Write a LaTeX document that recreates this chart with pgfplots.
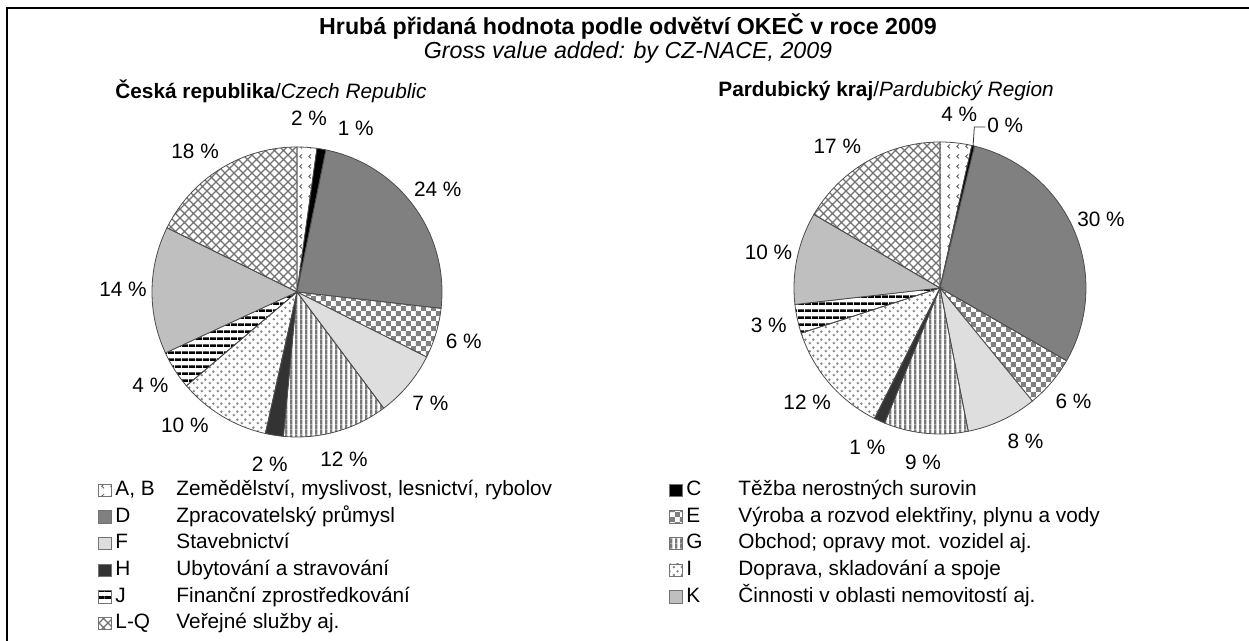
\documentclass[border=0pt]{standalone}
\usepackage{fontspec}
\setmainfont{Liberation Sans}
\usepackage{pgfplots}
\pgfplotsset{compat=1.18}
\usepackage{pgfplotstable}
\usetikzlibrary{patterns}

% ---------- patterns (1 px = 0.5 pt) ----------
\pgfdeclarepatternformonly{lqcross}{\pgfqpoint{-0.5pt}{-0.5pt}}{\pgfqpoint{5pt}{5pt}}{\pgfqpoint{4.5pt}{4.5pt}}{%
  \pgfsetlinewidth{0.55pt}%
  \pgfpathmoveto{\pgfqpoint{0pt}{0pt}}\pgfpathlineto{\pgfqpoint{4.5pt}{4.5pt}}%
  \pgfpathmoveto{\pgfqpoint{0pt}{4.5pt}}\pgfpathlineto{\pgfqpoint{4.5pt}{0pt}}%
  \pgfusepath{stroke}}
\pgfdeclarepatternformonly{checker}{\pgfqpoint{0pt}{0pt}}{\pgfqpoint{5.2pt}{5.2pt}}{\pgfqpoint{5.2pt}{5.2pt}}{%
  \pgfpathrectangle{\pgfpointorigin}{\pgfqpoint{2.6pt}{2.6pt}}%
  \pgfpathrectangle{\pgfqpoint{2.6pt}{2.6pt}}{\pgfqpoint{2.6pt}{2.6pt}}%
  \pgfusepath{fill}}
\pgfdeclarepatternformonly{vlines}{\pgfqpoint{0pt}{0pt}}{\pgfqpoint{2.6pt}{2.6pt}}{\pgfqpoint{2.6pt}{2.6pt}}{%
  \pgfpathrectangle{\pgfpointorigin}{\pgfqpoint{1.3pt}{2.6pt}}%
  \pgfusepath{fill}}
\pgfdeclarepatternformonly{hstripes}{\pgfqpoint{0pt}{0pt}}{\pgfqpoint{3.5pt}{3.5pt}}{\pgfqpoint{3.5pt}{3.5pt}}{%
  \pgfpathrectangle{\pgfpointorigin}{\pgfqpoint{3.5pt}{1.5pt}}%
  \pgfusepath{fill}}
\pgfdeclarepatternformonly{gdots}{\pgfqpoint{0pt}{0pt}}{\pgfqpoint{4pt}{4pt}}{\pgfqpoint{4pt}{4pt}}{%
  \pgfpathcircle{\pgfqpoint{1pt}{1pt}}{0.72pt}%
  \pgfpathcircle{\pgfqpoint{3pt}{3pt}}{0.72pt}%
  \pgfusepath{fill}}
\pgfdeclarepatternformonly{abmarks}{\pgfqpoint{0pt}{0pt}}{\pgfqpoint{4.5pt}{5pt}}{\pgfqpoint{4.5pt}{5pt}}{%
  \pgfsetlinewidth{0.45pt}%
  \pgfpathmoveto{\pgfqpoint{2.7pt}{3.6pt}}\pgfpathlineto{\pgfqpoint{1.5pt}{2.5pt}}\pgfpathlineto{\pgfqpoint{2.7pt}{1.4pt}}%
  \pgfusepath{stroke}}

\pgfplotsset{
  pie0/.style={pattern=abmarks, pattern color=black!65},
  pie1/.style={fill=black},
  pie2/.style={fill=black!50},
  pie3/.style={pattern=checker, pattern color=black!50},
  pie4/.style={fill=black!13},
  pie5/.style={pattern=vlines, pattern color=black!52},
  pie6/.style={fill=black!80},
  pie7/.style={pattern=gdots, pattern color=black!48},
  pie8/.style={pattern=hstripes, pattern color=black},
  pie9/.style={fill=black!25},
  pie10/.style={pattern=lqcross, pattern color=black!55},
}

\newcommand\labfont{\fontsize{10.4pt}{12pt}\selectfont}
\newcommand\titfont{\fontsize{11.6pt}{13pt}\selectfont}

% shares in per cent, label text, label angle shift (deg)
\pgfplotstableread{
val  lab shift
2.2  2   0
1.0  1   -10
23.6 24  0
5.6  6   0
7.4  7   0
11.7 12  0
2.0  2   0
10.3 10  -9
4.3  4   0
14.2 14  0
17.7 18  4
}\czdata
\pgfplotstableread{
val  lab shift
3.5  4   0
0.3  0   -8.7
29.5 30  0
5.8  6   0
7.8  8   4
9.3  9   0
1.2  1   0
12.6 12  0
3.2  3   0
10.2 10  0
16.6 17  6
}\pardata

\newcommand\pieslice[3]{%
  \addplot[pie#3, draw=black!70, line width=0.4pt, domain=#2:#1, samples=41, variable=\t]
    ({cos(\t)},{sin(\t)}) -- (axis cs:0,0) -- cycle;}

\newcommand\drawpie[1]{%
  \pgfmathsetmacro\cum{0}%
  \pgfplotsforeachungrouped \ii in {0,...,10}{%
    \pgfplotstablegetelem{\ii}{val}\of#1\let\vv\pgfplotsretval
    \pgfplotstablegetelem{\ii}{lab}\of#1\let\lb\pgfplotsretval
    \pgfplotstablegetelem{\ii}{shift}\of#1\let\shf\pgfplotsretval
    \pgfmathsetmacro\sA{90-3.6*\cum}%
    \pgfmathsetmacro\cum{\cum+\vv}%
    \pgfmathsetmacro\sB{90-3.6*\cum}%
    \pgfmathsetmacro\mA{(\sA+\sB)/2+\shf}%
    \edef\temp{\noexpand\pieslice{\sA}{\sB}{\ii}}\temp
    \edef\temp{\noexpand\node[font=\noexpand\labfont, inner sep=0pt] at (axis cs:{1.2*cos(\mA)},{1.2*sin(\mA)}) {\lb\space\noexpand\%};}\temp
  }}

\begin{document}
\begin{tikzpicture}[x=0.5pt,y=0.5pt]
\useasboundingbox (0,0) rectangle (1249,641);
\draw[line width=1pt] (1249,633) -- (7,633) -- (7,0);

\node[font=\titfont\bfseries] at (628,614) {Hrubá přidaná hodnota podle odvětví OKEČ v roce 2009};
\node[font=\titfont\itshape] at (628,588) {Gross value added: by CZ-NACE, 2009};
\node[font=\labfont, anchor=west, inner sep=0pt] at (115,550) {\textbf{Česká republika}/\textit{Czech Republic}};
\node[font=\labfont, anchor=west, inner sep=0pt] at (718,550) {\textbf{Pardubický kraj}/\textit{Pardubický Region}};

\begin{axis}[
  at={(148.5pt,174.5pt)}, anchor=center,
  x=72.5pt, y=72.5pt,
  xmin=-1.4, xmax=1.4, ymin=-1.4, ymax=1.4,
  hide axis, clip=false,
  legend columns=2,
  legend cell align=left,
  legend style={draw=none, fill=none, at={(0.01,0.037)}, anchor=north west,
    inner sep=0pt, font=\labfont, row sep=3.65pt,
    nodes={inner ysep=0pt, text height=7.5pt, text depth=2.2pt}},
  legend image code/.code={\draw[#1, draw=black!55, line width=0.3pt] (0pt,-3.1pt) rectangle (6.2pt,3.1pt);},
]
\drawpie{\czdata}
\legend{
  {\makebox[275pt][l]{\makebox[30.5pt][l]{A, B}Zemědělství, myslivost, lesnictví, rybolov}},
  {\makebox[26pt][l]{C}Těžba nerostných surovin},
  {\makebox[30.5pt][l]{D}Zpracovatelský průmysl},
  {\makebox[26pt][l]{E}Výroba a rozvod elektřiny, plynu a vody},
  {\makebox[30.5pt][l]{F}Stavebnictví},
  {\makebox[26pt][l]{G}Obchod; opravy mot. vozidel aj.},
  {\makebox[30.5pt][l]{H}Ubytování a stravování},
  {\makebox[26pt][l]{I}Doprava, skladování a spoje},
  {\makebox[30.5pt][l]{J}Finanční zprostředkování},
  {\makebox[26pt][l]{K}Činnosti v oblasti nemovitostí aj.},
  {\makebox[30.5pt][l]{L-Q}Veřejné služby aj.}
}
\end{axis}

\begin{axis}[
  at={(470pt,176.5pt)}, anchor=center,
  x=73pt, y=73pt,
  xmin=-1.4, xmax=1.4, ymin=-1.4, ymax=1.4,
  hide axis, clip=false,
]
\drawpie{\pardata}
\draw[black!80, line width=0.4pt] (axis cs:0.2268,0.9739) -- (axis cs:0.235,1.103) -- (axis cs:0.31,1.103);
\end{axis}
\end{tikzpicture}
\end{document}
